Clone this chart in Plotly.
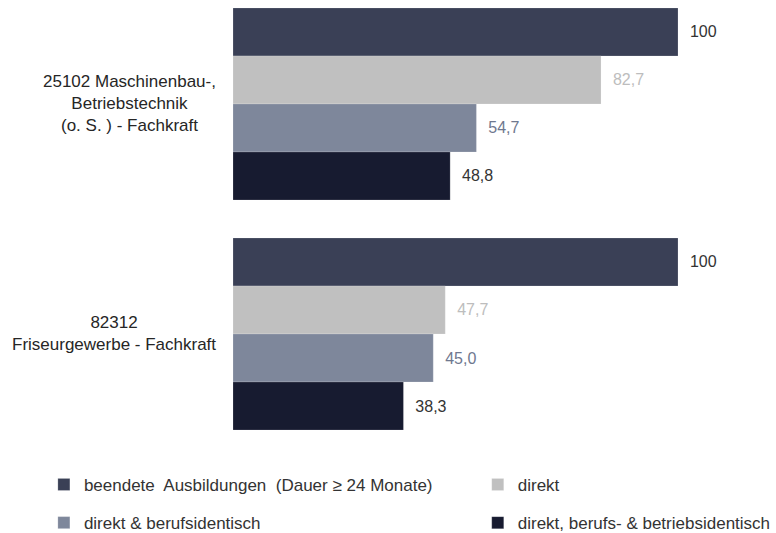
import plotly.graph_objects as go

categories = ["25102 Maschinenbau-,<br>Betriebstechnik<br>(o. S. ) - Fachkraft",
              "82312<br>Friseurgewerbe - Fachkraft"]
series_names = ["beendete  Ausbildungen  (Dauer ≥ 24 Monate)", "direkt",
                "direkt & berufsidentisch", "direkt, berufs- & betriebsidentisch"]
values_beendet = [100, 100]
values_direkt = [82.7, 47.7]
values_beruf = [54.7, 45.0]
values_betrieb = [48.8, 38.3]
labels_beendet = ["100", "100"]
labels_direkt = ["82,7", "47,7"]
labels_beruf = ["54,7", "45,0"]
labels_betrieb = ["48,8", "38,3"]

series_values = [values_beendet, values_direkt, values_beruf, values_betrieb]
series_labels = [labels_beendet, labels_direkt, labels_beruf, labels_betrieb]
bar_colors = ["#3a4056", "#c0c0c0", "#7e879b", "#171b30"]
text_colors = ["#333333", "#bdbdbd", "#6f788f", "#333333"]
legend_ids = ["legend", "legend2", "legend3", "legend4"]
legend_x = [-0.425, 0.55, -0.425, 0.55]
legend_y = [-0.080, -0.080, -0.165, -0.165]

FONT = "Liberation Sans, Arial, sans-serif"
NB = "\u00a0\u00a0"

fig = go.Figure()
for name, vals, labs, bc, tc, lg in zip(series_names, series_values, series_labels,
                                         bar_colors, text_colors, legend_ids):
    fig.add_trace(go.Bar(
        y=categories, x=vals, orientation="h", name=name,
        marker=dict(color=bc, line=dict(color="rgba(255,255,255,0.35)", width=0.5)),
        text=[NB + t for t in labs], textposition="outside",
        textfont=dict(color=tc, size=16, family=FONT),
        cliponaxis=False, hoverinfo="skip", legend=lg,
    ))

for cat in categories:
    fig.add_annotation(x=0, xref="paper", y=cat, yref="y", text=cat,
                       xanchor="right", yanchor="middle", align="center",
                       xshift=-15, showarrow=False,
                       font=dict(size=17, color="#262626", family=FONT))

layout_legends = {}
for lg, lx, ly in zip(legend_ids, legend_x, legend_y):
    layout_legends[lg] = dict(orientation="h", x=lx, xanchor="left", y=ly, yanchor="middle",
                              itemwidth=30, bgcolor="rgba(0,0,0,0)",
                              font=dict(size=17, color="#333333", family=FONT))

fig.update_layout(
    width=776, height=533,
    margin=dict(l=233, r=98, t=0, b=84, autoexpand=False),
    paper_bgcolor="white", plot_bgcolor="white",
    barmode="group", bargap=0.165, bargroupgap=0,
    font=dict(family=FONT, size=16, color="#333333"),
    xaxis=dict(range=[0, 100], visible=False, fixedrange=True),
    yaxis=dict(type="category", categoryarray=categories, range=[1.5, -0.452],
               showticklabels=False, showgrid=False, zeroline=False, showline=False,
               ticks=""),
    showlegend=True,
    **layout_legends,
)

fig.write_html("out.html")
